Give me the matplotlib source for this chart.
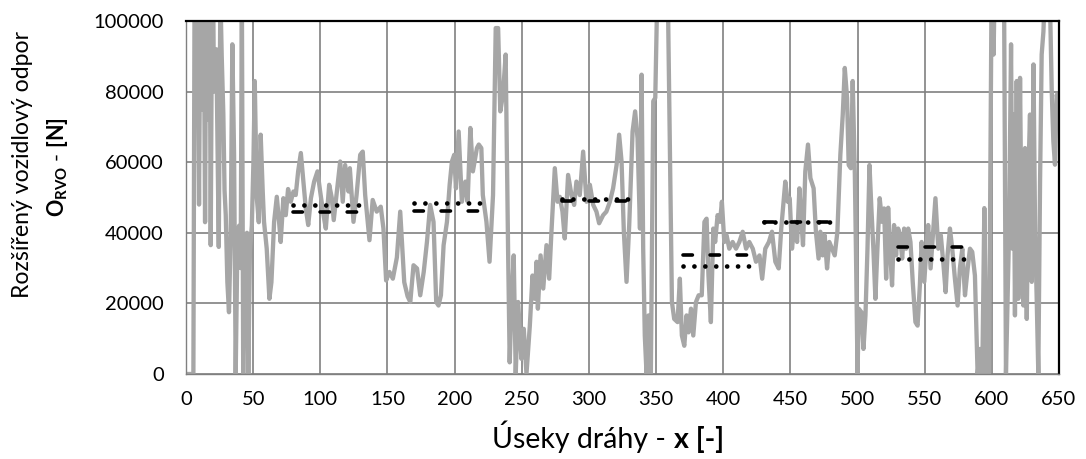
import matplotlib
matplotlib.use('Agg')
import matplotlib.pyplot as plt

plt.rcParams['font.family'] = ['Lato', 'DejaVu Sans']
plt.rcParams['mathtext.fontset'] = 'custom'
plt.rcParams['mathtext.rm'] = 'Lato'
plt.rcParams['mathtext.bf'] = 'Lato:bold'
plt.rcParams['mathtext.it'] = 'Lato:italic'

# Constants
W, H = 1086, 459
LINE_GREY = '#a6a6a6'
GRID_GREY = '#808080'
FONT_SIZE = 14.5
XLABEL_SIZE = 20.5
OUT_FILE = 'out.png'

# Useky drahy (x) a rozsireny vozidlovy odpor O_RVO [N]
useky = [
    1, 4, 5.5, 6.5, 7.5, 8.4, 9.7, 10.5, 11.2, 12, 12.7, 13.5, 14.2, 15, 15.6,
    16.3, 17, 17.7, 18.4, 19.2, 20, 20.8, 21.6, 22.6, 23.6, 24.4, 25.6, 26.6,
    27.8, 28.7, 29.6, 30.8, 32, 33.3, 34.5, 35.8, 37, 38.2, 39.5, 40.7, 41.6,
    42.6, 43.6, 44.6, 45.4, 46.4, 47.6, 49, 50.2, 51.2, 52.7, 54.2, 55.6,
    57.1, 58.1, 60.1, 62.1, 63.6, 65.6, 67.6, 69.3, 70.5, 72.5, 74.3, 76, 78,
    80, 81.7, 83.5, 85.5, 87.4, 89.2, 91, 93, 95.4, 97.9, 99.9, 102.4, 104.1,
    106.6, 108.5, 110, 114.8, 116.7, 118.5, 121, 122, 124.7, 127, 129.7,
    131.6, 133.4, 136.6, 139, 142, 145, 147, 149, 151.5, 154, 157, 159.5,
    162.5, 165, 167, 169.4, 172, 174.4, 177, 179.4, 181.8, 184.3, 186.3, 188,
    189.8, 191.8, 194.3, 196.3, 198, 199.7, 201, 203, 205.4, 208, 209.7,
    211.7, 213.6, 216.6, 218, 219.9, 221, 223.7, 226, 228.6, 230.6, 232.4,
    234, 236, 238, 239.8, 241, 242.3, 244, 245.5, 247.3, 249.7, 251.5, 253.5,
    256, 258, 259.7, 261, 262, 264, 266, 268.4, 270.4, 272.1, 274.6, 276.6,
    278.3, 280.3, 282, 284.5, 287, 289, 290.7, 293.2, 295.7, 298.2, 300.7,
    303.2, 305.6, 307.6, 310.6, 313, 315.6, 318, 320.6, 322.5, 324.3, 326,
    328, 330, 332.5, 334.4, 336.2, 338, 339.2, 340.4, 341.6, 342.9, 344.4,
    346.1, 347.9, 349.4, 351.5, 355, 358.5, 361.8, 363.5, 366, 367.7, 369.2,
    371, 372.7, 374.2, 376, 377.7, 379.7, 381.7, 384, 386, 387.6, 389, 390.8,
    392.6, 394, 395.8, 397.6, 399, 400.8, 402.5, 404.5, 407, 409.5, 412,
    414.5, 417, 419.4, 422, 424.4, 427, 429, 431.3, 434, 436.3, 438.8, 441.3,
    443.2, 446.2, 448, 449.5, 451.2, 453.2, 455, 456.7, 458.2, 459.4, 461.1,
    463.1, 464.9, 467.3, 469, 471, 472.3, 474, 475.5, 477.3, 479, 481, 483,
    485, 487.2, 489, 490.5, 492.2, 493.4, 495, 496.4, 498, 499, 500, 500.9,
    502.9, 504.4, 505.9, 507.4, 508.9, 510.3, 511.8, 513.3, 514.8, 516.5,
    518.3, 519.8, 521.3, 522.8, 524.2, 525.7, 527.2, 528.7, 530.2, 531.7,
    533.2, 534.7, 536.2, 537.7, 539.4, 541.1, 543.1, 544.7, 546.4, 547.7,
    549.7, 551.4, 552.6, 554.4, 556.4, 558, 560.1, 562, 564, 565.6, 567,
    568.8, 570.5, 572.5, 574.5, 576.2, 578, 580, 582, 583.7, 585.4, 587.4,
    589.4, 591.2, 592.9, 594.4, 596.1, 597.9, 599.9, 601.3, 602.5, 606, 609,
    610.5, 612.8, 614.3, 615.3, 616.3, 617.2, 618.5, 619.7, 621, 622.2, 623.5,
    624.7, 626, 627.2, 628.4, 629.7, 631, 632.2, 633.4, 634.6, 635.9, 637.1,
    638.4, 639.6, 641.6, 643.3, 644.6, 645.8, 647, 648.3, 649.5,
]
odpor = [
    0, 0, 0, 125000, 80000, 115000, 48000, 100000, 130000, 75000, 105000,
    90000, 43000, 110000, 72000, 120000, 85000, 104000, 36500, 95000, 120000,
    80000, 88000, 92000, 60000, 36000, 108000, 90000, 73700, 52000, 45000,
    26000, 17500, 40000, 93400, 62000, 0, 35000, 42000, 30000, 108000, 0,
    38000, 30000, 40000, 0, 35000, 42000, 60000, 83000, 50000, 43000, 67800,
    52000, 43100, 35500, 21300, 26000, 43100, 50200, 43100, 37400, 49800,
    45000, 52400, 48800, 51700, 50700, 57400, 62600, 54500, 46900, 42200,
    49800, 54500, 57400, 51700, 45000, 41200, 53600, 50000, 43600, 60200,
    48800, 59200, 51700, 58300, 43100, 50700, 62100, 63000, 50700, 37900,
    49300, 46000, 47400, 41200, 26500, 28900, 27000, 33000, 46000, 26000,
    22000, 20400, 30800, 29900, 22300, 28900, 37400, 47900, 43100, 20400,
    19400, 22300, 36500, 43100, 53600, 60200, 62100, 52600, 68700, 48800,
    54500, 48800, 69700, 57400, 64000, 65000, 64000, 50700, 43100, 31800,
    50700, 98000, 98000, 74400, 79100, 90500, 35500, 3300, 19400, 33600, 0,
    20400, 4300, 12800, 0, 13700, 27900, 21300, 31800, 18500, 33600, 24200,
    36500, 27000, 40300, 58300, 48800, 50200, 46000, 38400, 56400, 50700,
    47900, 54500, 50700, 63000, 48800, 53600, 47900, 46000, 42700, 45000,
    46000, 48800, 52600, 59200, 67800, 60200, 40300, 26100, 42200, 68700,
    74400, 66800, 41200, 84800, 35500, 10900, 0, 16600, 0, 77300, 78200,
    120000, 125000, 115000, 20400, 15600, 14700, 27000, 10900, 8000, 16600,
    11800, 18500, 10900, 20400, 22300, 22300, 43100, 44000, 27900, 14700,
    41200, 37400, 45000, 43100, 48800, 37400, 39300, 35500, 37400, 35500,
    37400, 40300, 35500, 37400, 35500, 31800, 33600, 27000, 35500, 37400,
    40300, 31800, 29900, 41200, 54500, 48800, 49800, 35500, 43100, 37400,
    52600, 43100, 36500, 57400, 65000, 55500, 52600, 40300, 32700, 40300,
    33600, 39300, 29900, 37400, 35500, 33600, 40300, 62100, 73500, 86700,
    78200, 59200, 58300, 83000, 56400, 29900, 0, 18500, 17500, 7100, 16600,
    35500, 59200, 47000, 35500, 21300, 35500, 49800, 43100, 46900, 27000,
    47100, 35500, 25100, 42200, 33600, 41200, 39300, 32700, 41200, 35500,
    41200, 37400, 26100, 14700, 13700, 25100, 37400, 26100, 36500, 42200,
    29900, 41200, 49800, 35500, 39300, 30800, 23200, 33600, 41200, 35500,
    27000, 19400, 29900, 35500, 22300, 29900, 35500, 34600, 27900, 0, 7100,
    0, 47000, 0, 0, 115000, 90500, 120000, 125000, 115000, 0, 40000, 93400,
    35500, 73500, 16600, 83000, 21300, 83900, 35500, 19400, 64000, 15600,
    56400, 73500, 26100, 87700, 40300, 21300, 0, 54500, 90500, 97000, 110000,
    115000, 105000, 80100, 65900, 59300, 79100, 77000,
]

# Useky s prumernymi hodnotami (carkovane a teckovane)
usek_od = [80, 170, 280, 370, 430, 530]
usek_do = [130, 220, 330, 420, 480, 580]
prumer_carka = [45800, 46200, 48900, 33700, 43000, 36000]
prumer_tecka = [47800, 48400, 49500, 30700, 43000, 32700]


def px_box(left, top, right, bottom):
    """ Axes box from pixel edges """
    return [left / W, 1 - bottom / H, (right - left) / W, (bottom - top) / H]


def style_axes(ax):
    ax.set_xlim(0, 650)
    ax.set_ylim(0, 100000)
    ax.set_xticks(range(0, 651, 50))
    ax.set_yticks(range(0, 100001, 20000))
    ax.grid(True, color=GRID_GREY, lw=1.2)
    ax.set_axisbelow(True)
    ax.tick_params(axis='both', length=0, labelsize=FONT_SIZE)
    ax.tick_params(axis='x', pad=12)
    ax.tick_params(axis='y', pad=16)
    for side in ['top', 'right']:
        ax.spines[side].set_color('black')
        ax.spines[side].set_linewidth(1.6)
    for side in ['left', 'bottom']:
        ax.spines[side].set_color(GRID_GREY)
        ax.spines[side].set_linewidth(1.0)


def x_title(fig, center_px, base_px):
    """ Regular + bold x axis title, centred as a whole """
    left = fig.text(0, 1 - base_px / H, 'Úseky dráhy - ', ha='left', va='baseline',
                    fontsize=XLABEL_SIZE)
    right = fig.text(0, 1 - base_px / H, 'x [-]', ha='left', va='baseline',
                     fontsize=XLABEL_SIZE, fontweight='bold')
    renderer = fig.canvas.get_renderer()
    w_left = left.get_window_extent(renderer).width
    w_right = right.get_window_extent(renderer).width
    x0 = center_px - (w_left + w_right) / 2
    left.set_x(x0 / W)
    right.set_x((x0 + w_left) / W)


def main():
    fig = plt.figure(figsize=(W / 100, H / 100), dpi=100)
    ax = fig.add_axes(px_box(186, 21, 1059, 374))
    style_axes(ax)

    ax.plot(useky, odpor, color=LINE_GREY, lw=3.1, solid_joinstyle='round', zorder=2)
    for x0, x1, yc, yt in zip(usek_od, usek_do, prumer_carka, prumer_tecka):
        ax.plot([x0, x1], [yc, yc], color='black', lw=2.6,
                linestyle=(0, (2.6, 4.9)), dash_capstyle='round', zorder=3)
        ax.plot([x0, x1], [yt, yt], color='black', lw=3.4,
                linestyle=(0, (0.01, 2.3)), dash_capstyle='round', zorder=3)

    fig.text(23 / W, 1 - 164 / H, 'Rozšířený vozidlový odpor', rotation=90,
             ha='center', va='center', fontsize=16.6)
    fig.text(58 / W, 1 - 167 / H, r'$\mathbf{O_{RVO}}$ - $\mathbf{[N]}$', rotation=90,
             ha='center', va='center', fontsize=15.5)
    x_title(fig, 608, 448)

    fig.savefig(OUT_FILE, dpi=100)
    plt.close(fig)


if __name__ == '__main__':
    main()
